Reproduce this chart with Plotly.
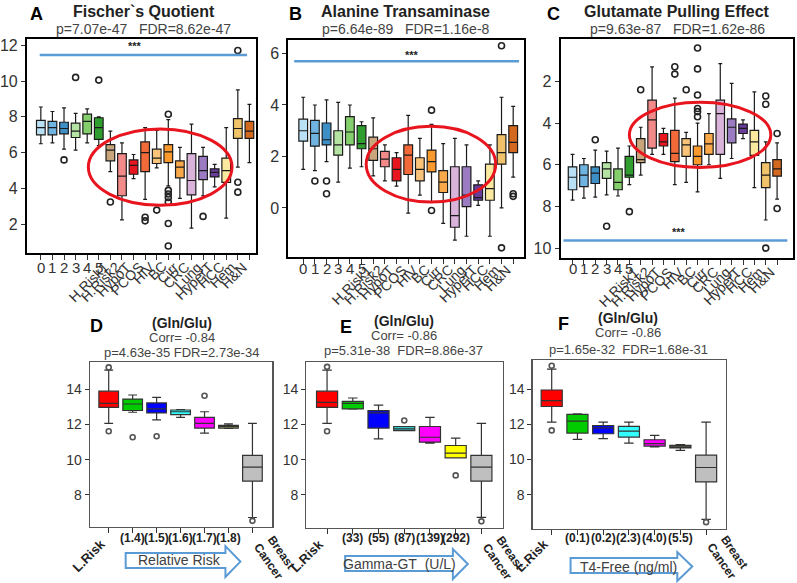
import plotly.graph_objects as go

W, H = 797, 583
FONT = "Liberation Sans, Arial, sans-serif"

# ---------------- data: panels A-C ----------------
abc_cats = ["0", "1", "2", "3", "4", "5", "H.Risk1", "H.Risk2", "HypoT", "PCOS", "HIV", "BC",
            "Cirr", "CRC", "Lung", "HyperT", "HCC", "Hem", "H&N"]
abc_colors = ["#b9e0f5", "#6fb3e0", "#3d8fc6", "#b5e3a3", "#84cf6c", "#2f9e2f", "#c9a57c",
              "#f28a8a", "#e8161e", "#f26a3a", "#f9c47a", "#fb9a2c", "#f9a94a", "#d9b3d9",
              "#9b7cc2", "#6a3d9a", "#fbe9a0", "#f0c36a", "#d2691e"]

A_lo = [6.5, 6.55, 6.2, 6.15, 6.55, 6.4, 4.95, 2.25, 4.55, 3.4, 5.15, 4.15, 3.45, 1.8, 3.6, 4.1, 2.35, 5.2, 5.45]
A_q1 = [7.0, 7.0, 7.05, 6.85, 7.05, 6.75, 5.55, 3.6, 4.8, 4.95, 5.4, 5.45, 4.6, 3.65, 4.5, 4.65, 4.35, 6.8, 6.8]
A_md = [7.4, 7.4, 7.35, 7.2, 7.75, 7.4, 6.15, 4.7, 5.3, 6.0, 5.7, 6.05, 5.2, 4.45, 5.0, 4.9, 5.0, 7.35, 7.2]
A_q3 = [7.8, 7.75, 7.7, 7.65, 8.15, 7.95, 6.45, 5.95, 5.6, 6.6, 6.2, 6.45, 5.55, 5.95, 5.8, 5.1, 5.7, 7.9, 7.75]
A_hi = [8.55, 8.3, 8.5, 8.2, 8.45, 8.0, 7.2, 6.55, 5.9, 7.4, 7.25, 7.85, 6.3, 7.6, 6.3, 5.35, 7.4, 9.5, 8.7]
A_out = [[], [], [5.6], [10.2], [], [10.05], [3.25], [], [], [2.4, 2.2], [2.8],
         [8.15, 3.9, 3.7, 3.5, 3.25, 2.05, 0.8], [], [], [2.45], [], [], [11.7, 4.35, 3.8], []]

B_lo = [1.5, 1.45, 1.8, 1.0, 1.55, 1.6, 1.25, 1.05, 0.85, -0.2, 0.5, 0.25, -0.6, -1.25, -1.1, 0.1, -1.1, 0.0, 1.2]
B_q1 = [2.6, 2.4, 2.45, 2.05, 2.45, 2.3, 1.85, 1.6, 1.05, 1.3, 1.05, 1.4, 0.6, -0.75, 0.05, 0.3, 0.3, 1.7, 2.15]
B_md = [3.0, 2.9, 2.65, 2.45, 2.95, 2.5, 2.3, 1.9, 1.5, 2.05, 1.5, 1.8, 1.0, -0.3, 0.5, 0.4, 0.75, 2.15, 2.55]
B_q3 = [3.45, 3.4, 3.3, 3.0, 3.55, 3.2, 2.75, 2.2, 1.95, 2.45, 1.95, 2.25, 1.45, 1.6, 1.6, 0.9, 1.7, 2.85, 3.2]
B_hi = [4.3, 4.0, 4.2, 4.1, 4.0, 3.35, 3.5, 2.45, 2.15, 3.6, 2.7, 3.25, 2.5, 2.7, 2.45, 1.05, 2.45, 4.3, 3.95]
B_out = [[], [1.05], [1.05, 0.55], [], [], [], [], [], [], [], [], [3.8, -0.1], [], [], [], [], [],
         [6.3, -1.55], [0.55, 0.45]]

C_lo = [5.5, 5.7, 5.3, 5.35, 5.2, 5.1, 4.2, 1.3, 4.25, 2.8, 4.45, 4.0, 3.55, 1.15, 2.1, 3.85, 2.5, 4.9, 4.95]
C_q1 = [6.1, 6.0, 6.1, 5.9, 6.2, 5.6, 4.75, 2.9, 4.5, 4.35, 4.75, 5.1, 4.5, 2.9, 3.8, 4.05, 4.35, 5.9, 5.75]
C_md = [6.6, 6.5, 6.4, 6.2, 6.85, 6.5, 5.75, 3.85, 4.9, 5.45, 5.05, 5.6, 5.0, 3.55, 4.2, 4.25, 4.9, 6.5, 6.2]
C_q3 = [7.2, 7.05, 6.9, 6.65, 7.2, 6.6, 5.9, 5.2, 5.1, 5.85, 5.6, 6.0, 5.5, 5.5, 4.95, 4.5, 5.55, 7.1, 6.55]
C_hi = [7.7, 7.6, 7.55, 7.45, 7.5, 6.95, 6.5, 5.5, 5.5, 6.95, 6.85, 7.3, 6.0, 6.65, 5.7, 4.75, 7.1, 8.65, 7.65]
C_out = [[], [], [4.8], [8.95], [], [8.25], [2.4], [], [], [1.3, 1.65], [2.4],
         [0.4, 1.4, 2.65, 3.3, 3.45, 3.7], [], [], [], [], [], [2.7, 3.1, 10.0], [4.5, 8.1]]

# ---------------- data: panels D-F ----------------
D_ticks = ["L.Risk", "(1.4)", "(1.5)", "(1.6)", "(1.7)", "(1.8)", "Breast<br>Cancer"]
E_ticks = ["L.Risk", "(33)", "(55)", "(87)", "(139)", "(292)", "Breast<br>Cancer"]
F_ticks = ["L.Risk", "(0.1)", "(0.2)", "(2.3)", "(4.0)", "(5.5)", "Breast<br>Cancer"]
D_colors = ["#ff0000", "#00cc00", "#0000ff", "#33ffff", "#ff00ff", "#a8a860", "#bfbfbf"]
E_colors = ["#ff0000", "#00cc00", "#0000ff", "#33cccc", "#ff00ff", "#ffff00", "#bfbfbf"]
F_colors = ["#ff0000", "#00cc00", "#0000ff", "#33ffff", "#ff00ff", "#a8a860", "#bfbfbf"]

D_lo = [12.07, 12.7, 12.27, 12.41, 11.51, 11.78, 6.72]
D_q1 = [12.98, 12.8, 12.66, 12.57, 11.8, 11.8, 8.79]
D_md = [13.2, 13.17, 12.89, 12.73, 12.07, 11.9, 9.58]
D_q3 = [13.9, 13.45, 13.23, 12.83, 12.41, 11.95, 10.25]
D_hi = [15.1, 13.68, 13.55, 12.85, 12.73, 12.04, 12.07]
D_out = [[15.25, 11.62], [11.28], [11.34], [], [13.64], [], [6.53]]

E_lo = [12.07, 12.87, 11.19, 11.66, 10.95, 10.1, 6.72]
E_q1 = [12.98, 12.89, 11.8, 11.66, 11.0, 10.11, 8.79]
E_md = [13.26, 13.2, 12.66, 11.76, 11.28, 10.38, 9.58]
E_q3 = [13.9, 13.32, 12.79, 11.89, 11.89, 10.81, 10.25]
E_hi = [15.1, 13.51, 13.11, 11.89, 12.41, 11.23, 12.07]
E_out = [[15.28, 11.62], [], [], [12.23], [], [9.11], [6.5]]

F_lo = [12.13, 11.15, 11.19, 10.94, 10.72, 10.53, 6.6]
F_q1 = [13.02, 11.51, 11.47, 11.28, 10.77, 10.66, 8.73]
F_md = [13.36, 12.19, 11.81, 11.62, 10.91, 10.72, 9.55]
F_q3 = [13.96, 12.57, 11.94, 11.89, 11.13, 10.81, 10.25]
F_hi = [15.15, 12.6, 12.13, 12.13, 11.38, 10.85, 12.13]
F_out = [[15.34, 11.66], [], [], [], [], [], [6.44]]


def px(x):
    return x / W


def py(y):
    return 1 - y / H


fig = go.Figure()


def add_panel(n, lo, q1, md, q3, hi, outs, colors, bw, lcol, osize, ocol):
    xa = "x" if n == 1 else f"x{n}"
    ya = "y" if n == 1 else f"y{n}"
    for i in range(len(md)):
        fig.add_trace(go.Box(x=[i], q1=[q1[i]], median=[md[i]], q3=[q3[i]],
                             lowerfence=[lo[i]], upperfence=[hi[i]],
                             fillcolor=colors[i], line=dict(color=lcol, width=1.2),
                             width=bw, whiskerwidth=0.45, boxpoints=False,
                             xaxis=xa, yaxis=ya, hoverinfo="skip"))
    ox, oy = [], []
    for i, o in enumerate(outs):
        for v in o:
            ox.append(i)
            oy.append(v)
    fig.add_trace(go.Scatter(x=ox, y=oy, mode="markers", xaxis=xa, yaxis=ya, hoverinfo="skip",
                             marker=dict(symbol="circle-open", size=osize,
                                         color=ocol, line=dict(width=1.6, color=ocol))))


add_panel(1, A_lo, A_q1, A_md, A_q3, A_hi, A_out, abc_colors, 0.75, "#1a1a1a", 6, "#222")
add_panel(2, B_lo, B_q1, B_md, B_q3, B_hi, B_out, abc_colors, 0.75, "#1a1a1a", 6, "#222")
add_panel(3, C_lo, C_q1, C_md, C_q3, C_hi, C_out, abc_colors, 0.75, "#1a1a1a", 6, "#222")
add_panel(4, D_lo, D_q1, D_md, D_q3, D_hi, D_out, D_colors, 0.82, "#333", 5, "#555")
add_panel(5, E_lo, E_q1, E_md, E_q3, E_hi, E_out, E_colors, 0.82, "#333", 5, "#555")
add_panel(6, F_lo, F_q1, F_md, F_q3, F_hi, F_out, F_colors, 0.82, "#333", 5, "#555")

# frames (pixel boxes) and ranges
frames = {
    1: (25, 255, 37, 252, [-1.2, 18.6], [0.4, 12.35], [2, 4, 6, 8, 10, 12]),
    2: (287, 523, 38, 256, [-1.28, 18.9], [-1.91, 6.53], [0, 2, 4, 6]),
    3: (560, 793, 37, 257, [-1.05, 19.4], [10.48, -0.04], [2, 4, 6, 8, 10]),
    4: (88, 271, 361, 527, [-0.79, 6.83], [6.17, 15.57], [8, 10, 12, 14]),
    5: (305, 502, 361, 528, [-0.81, 6.83], [6.11, 15.57], [8, 10, 12, 14]),
    6: (532, 726, 359, 529, [-0.74, 6.78], [6.04, 15.68], [8, 10, 12, 14]),
}
lay = {}
for n, (x0, x1, y0, y1, xr, yr, yt) in frames.items():
    top = n <= 3
    sx = "" if n == 1 else str(n)
    lay["xaxis" + sx] = dict(domain=[px(x0), px(x1)], anchor="y" + sx, range=xr,
                             tickvals=list(range(19 if top else 7)), showticklabels=False,
                             ticks="outside", ticklen=5, tickcolor="#333",
                             showline=True, mirror=True,
                             linecolor="black" if top else "#555", linewidth=2 if top else 1.2,
                             showgrid=False, zeroline=False)
    lay["yaxis" + sx] = dict(domain=[py(y1), py(y0)], anchor="x" + sx, range=yr,
                             tickvals=yt, ticks="outside", ticklen=4, tickcolor="#333",
                             tickfont=dict(size=16 if top else 14, color="#333", family=FONT),
                             showline=True, mirror=True,
                             linecolor="black" if top else "#555", linewidth=2 if top else 1.2,
                             showgrid=False, zeroline=False)

ann = []
shapes = []

# category labels for A-C
cat_y = {1: (266, 255), 2: (267, 258), 3: (267, 260)}
for n in (1, 2, 3):
    sx = "x" if n == 1 else f"x{n}"
    for i, c in enumerate(abc_cats):
        if i < 6:
            ann.append(dict(x=i, y=py(cat_y[n][0]), xref=sx, yref="paper", text=c,
                            showarrow=False, xanchor="center", yanchor="middle",
                            font=dict(size=15, color="#333", family=FONT)))
        else:
            ann.append(dict(x=i + 0.35, y=py(cat_y[n][1]), xref=sx, yref="paper", text=c,
                            showarrow=False, xanchor="right", yanchor="top", textangle=-45,
                            font=dict(size=14, color="#333", family=FONT)))

# bottom tick labels
for n, labels in ((4, D_ticks), (5, E_ticks), (6, F_ticks)):
    sx = f"x{n}"
    for i, t in enumerate(labels):
        f = dict(size=12, color="#222", family=FONT)
        if i == 0:
            ann.append(dict(x=i + 0.1, y=py(533), xref=sx, yref="paper", text="<b>" + t + "</b>",
                            showarrow=False, xanchor="right", yanchor="top", textangle=-45,
                            font=dict(size=13, color="#222", family=FONT)))
        elif i == 6:
            ann.append(dict(x=i - 0.2, y=py(529), xref=sx, yref="paper", text="<b>" + t + "</b>",
                            showarrow=False, xanchor="left", yanchor="top", textangle=55,
                            font=dict(size=12, color="#222", family=FONT)))
        else:
            ann.append(dict(x=i, y=py(538), xref=sx, yref="paper", text="<b>" + t + "</b>",
                            showarrow=False, xanchor="center", yanchor="middle", font=f))

# titles
NB = "\u00a0"
top_titles = [
    ("A", 35, "Fischer`s Quotient", 142, "p=7.07e-47" + NB * 3 + "FDR=8.62e-47"),
    ("B", 294, "Alanine Transaminase", 405, "p=6.64e-89" + NB * 3 + "FDR=1.16e-8"),
    ("C", 553, "Glutamate Pulling Effect", 677, "p=9.63e-87" + NB * 3 + "FDR=1.62e-86"),
]
for letter, lx, title, tx, ptxt in top_titles:
    ann.append(dict(x=px(lx), y=py(12), xref="paper", yref="paper", text="<b>" + letter + "</b>",
                    showarrow=False, xanchor="center", yanchor="middle",
                    font=dict(size=18, color="black", family=FONT)))
    ann.append(dict(x=px(tx), y=py(10), xref="paper", yref="paper", text="<b>" + title + "</b>",
                    showarrow=False, xanchor="center", yanchor="middle",
                    font=dict(size=16, color="#222", family=FONT)))
    ann.append(dict(x=px(tx), y=py(27), xref="paper", yref="paper", text=ptxt,
                    showarrow=False, xanchor="center", yanchor="middle",
                    font=dict(size=14, color="#444", family=FONT)))

bot_titles = [
    ("D", 95, 325, 180, (322, 337, 352), "Corr= -0.84", "p=4.63e-35 FDR=2.73e-34"),
    ("E", 345, 326, 403, (320, 335, 350), "Corr= -0.86", "p=5.31e-38" + NB * 2 + "FDR=8.86e-37"),
    ("F", 563, 323, 628, (317, 332, 349), "Corr= -0.86", "p=1.65e-32" + NB * 2 + "FDR=1.68e-31"),
]
for letter, lx, ly, tx, ys, corr, ptxt in bot_titles:
    ann.append(dict(x=px(lx), y=py(ly), xref="paper", yref="paper", text="<b>" + letter + "</b>",
                    showarrow=False, xanchor="center", yanchor="middle",
                    font=dict(size=18, color="black", family=FONT)))
    ann.append(dict(x=px(tx), y=py(ys[0]), xref="paper", yref="paper", text="<b>(Gln/Glu)</b>",
                    showarrow=False, xanchor="center", yanchor="middle",
                    font=dict(size=14, color="#222", family=FONT)))
    ann.append(dict(x=px(tx), y=py(ys[1]), xref="paper", yref="paper", text=corr,
                    showarrow=False, xanchor="center", yanchor="middle",
                    font=dict(size=13, color="#444", family=FONT)))
    ann.append(dict(x=px(tx), y=py(ys[2]), xref="paper", yref="paper", text=ptxt,
                    showarrow=False, xanchor="center", yanchor="middle",
                    font=dict(size=13, color="#444", family=FONT)))

# significance lines and stars
sig = [("x", "y", -0.1, 17.8, 11.45, 8.1, 11.95),
       ("x2", "y2", -0.77, 18.5, 5.7, 9.3, 5.95),
       ("x3", "y3", -0.8, 18.9, 9.64, 9.4, 9.25)]
for xr, yr, xa, xb, yv, sxp, syv in sig:
    shapes.append(dict(type="line", xref=xr, yref=yr, x0=xa, x1=xb, y0=yv, y1=yv,
                       line=dict(color="#5b9bd5", width=2.5)))
    ann.append(dict(x=sxp, y=syv, xref=xr, yref=yr, text="<b>***</b>", showarrow=False,
                    xanchor="center", yanchor="middle", font=dict(size=11, color="#222", family=FONT)))

# red ellipses
ells = [("x", "y", 4.1, 16.5, 3.07, 7.33),
        ("x2", "y2", 5.4, 16.5, 0.23, 3.17),
        ("x3", "y3", 5.0, 17.45, 3.0, 6.13)]
for xr, yr, a, b, c, d in ells:
    shapes.append(dict(type="circle", xref=xr, yref=yr, x0=a, x1=b, y0=c, y1=d,
                       line=dict(color="#e8141e", width=3)))

# arrows
arrows = [
    ([(124, 553), (224, 553), (224, 546), (239, 561.5), (224, 577), (224, 568), (124, 568)], "Relative Risk", 178, 560),
    ([(344, 556), (452, 556), (452, 549), (467, 564), (452, 579), (452, 571), (344, 571)], "Gamma-GT" + NB * 2 + "(U/L)", 398, 564),
    ([(570, 558), (677, 558), (677, 552), (692, 566.5), (677, 581), (677, 573), (570, 573)], "T4-Free (ng/ml)", 628, 567),
]
for pts, txt, tx, ty in arrows:
    path = "M " + " L ".join(f"{px(a):.5f},{py(b):.5f}" for a, b in pts) + " Z"
    shapes.append(dict(type="path", xref="paper", yref="paper", path=path,
                       line=dict(color="#5b9bd5", width=2), fillcolor="white", layer="below"))
    ann.append(dict(x=px(tx), y=py(ty), xref="paper", yref="paper", text=txt, showarrow=False,
                    xanchor="center", yanchor="middle", font=dict(size=14, color="#404040", family=FONT)))

fig.update_layout(width=W, height=H, margin=dict(l=0, r=0, t=0, b=0),
                  paper_bgcolor="white", plot_bgcolor="white", showlegend=False,
                  boxmode="overlay", annotations=ann, shapes=shapes, hovermode=False,
                  font=dict(family=FONT), **lay)

fig.write_html("out.html", config={"displayModeBar": False, "staticPlot": True},
               post_script="document.body.style.margin='0';document.body.style.overflow='hidden';")
